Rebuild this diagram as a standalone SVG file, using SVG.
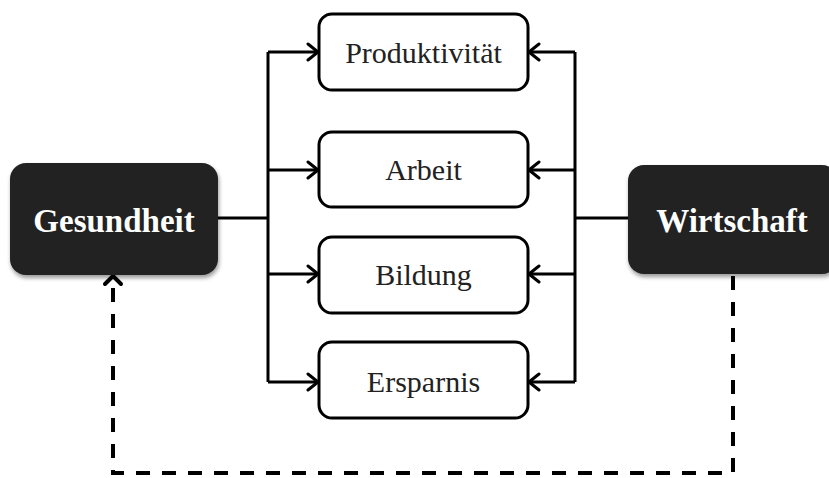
<svg xmlns="http://www.w3.org/2000/svg" width="829" height="478" viewBox="0 0 829 478">
<style>
.box{fill:#fff;stroke:#000;stroke-width:3}
.dark{fill:#222;filter:url(#sh)}
.lbl{font-family:"Liberation Serif","Times New Roman",serif;font-size:30px;fill:#222;text-anchor:middle}
.big{font-family:"Liberation Serif","Times New Roman",serif;font-size:33px;font-weight:bold;fill:#fff;text-anchor:middle}
.ln{fill:none;stroke:#000;stroke-width:3}
.ah{fill:none;stroke:#000;stroke-width:3;stroke-linecap:round;stroke-linejoin:round}
.dash{fill:none;stroke:#000;stroke-width:4;stroke-dasharray:14 12}
</style>
<defs>
<filter id="sh" x="-10%" y="-10%" width="125%" height="130%">
<feGaussianBlur in="SourceAlpha" stdDeviation="2"/>
<feOffset dx="1" dy="3" result="b"/>
<feComponentTransfer><feFuncA type="linear" slope="0.4"/></feComponentTransfer>
<feMerge><feMergeNode/><feMergeNode in="SourceGraphic"/></feMerge>
</filter>
</defs>
<rect width="829" height="478" fill="#fff"/>
<g id="connectors">
<path class="ln" d="M218 218H268M268 52V382M268 52H317M268 170H317M268 274H317M268 382H317"/>
<path class="ln" d="M628 218H575M575 52V382M575 52H530M575 170H530M575 274H530M575 382H530"/>
<path class="ah" d="M308 44L318 52L308 60M308 162L318 170L308 178M308 266L318 274L308 282M308 374L318 382L308 390"/>
<path class="ah" d="M539 44L529 52L539 60M539 162L529 170L539 178M539 266L529 274L539 282M539 374L529 382L539 390"/>
<path class="dash" d="M733 276V473H113V282"/>
<path class="ah" d="M105 284L113 276L121 284" style="stroke-width:4"/>
</g>
<g id="gesundheit">
<rect class="dark" x="10" y="163" width="208" height="112" rx="16"/>
<text class="big" x="114" y="232">Gesundheit</text>
</g>
<g id="wirtschaft">
<rect class="dark" x="628" y="165" width="210" height="109" rx="16"/>
<text class="big" x="732" y="232">Wirtschaft</text>
</g>
<g id="produktivitaet">
<rect class="box" x="319" y="14" width="209" height="76" rx="13"/>
<text class="lbl" x="423.5" y="63">Produktivität</text>
</g>
<g id="arbeit">
<rect class="box" x="319" y="132" width="209" height="75" rx="13"/>
<text class="lbl" x="423.5" y="180">Arbeit</text>
</g>
<g id="bildung">
<rect class="box" x="319" y="237" width="209" height="76" rx="13"/>
<text class="lbl" x="423.5" y="285">Bildung</text>
</g>
<g id="ersparnis">
<rect class="box" x="319" y="342" width="209" height="76" rx="13"/>
<text class="lbl" x="423.5" y="392">Ersparnis</text>
</g>
</svg>
